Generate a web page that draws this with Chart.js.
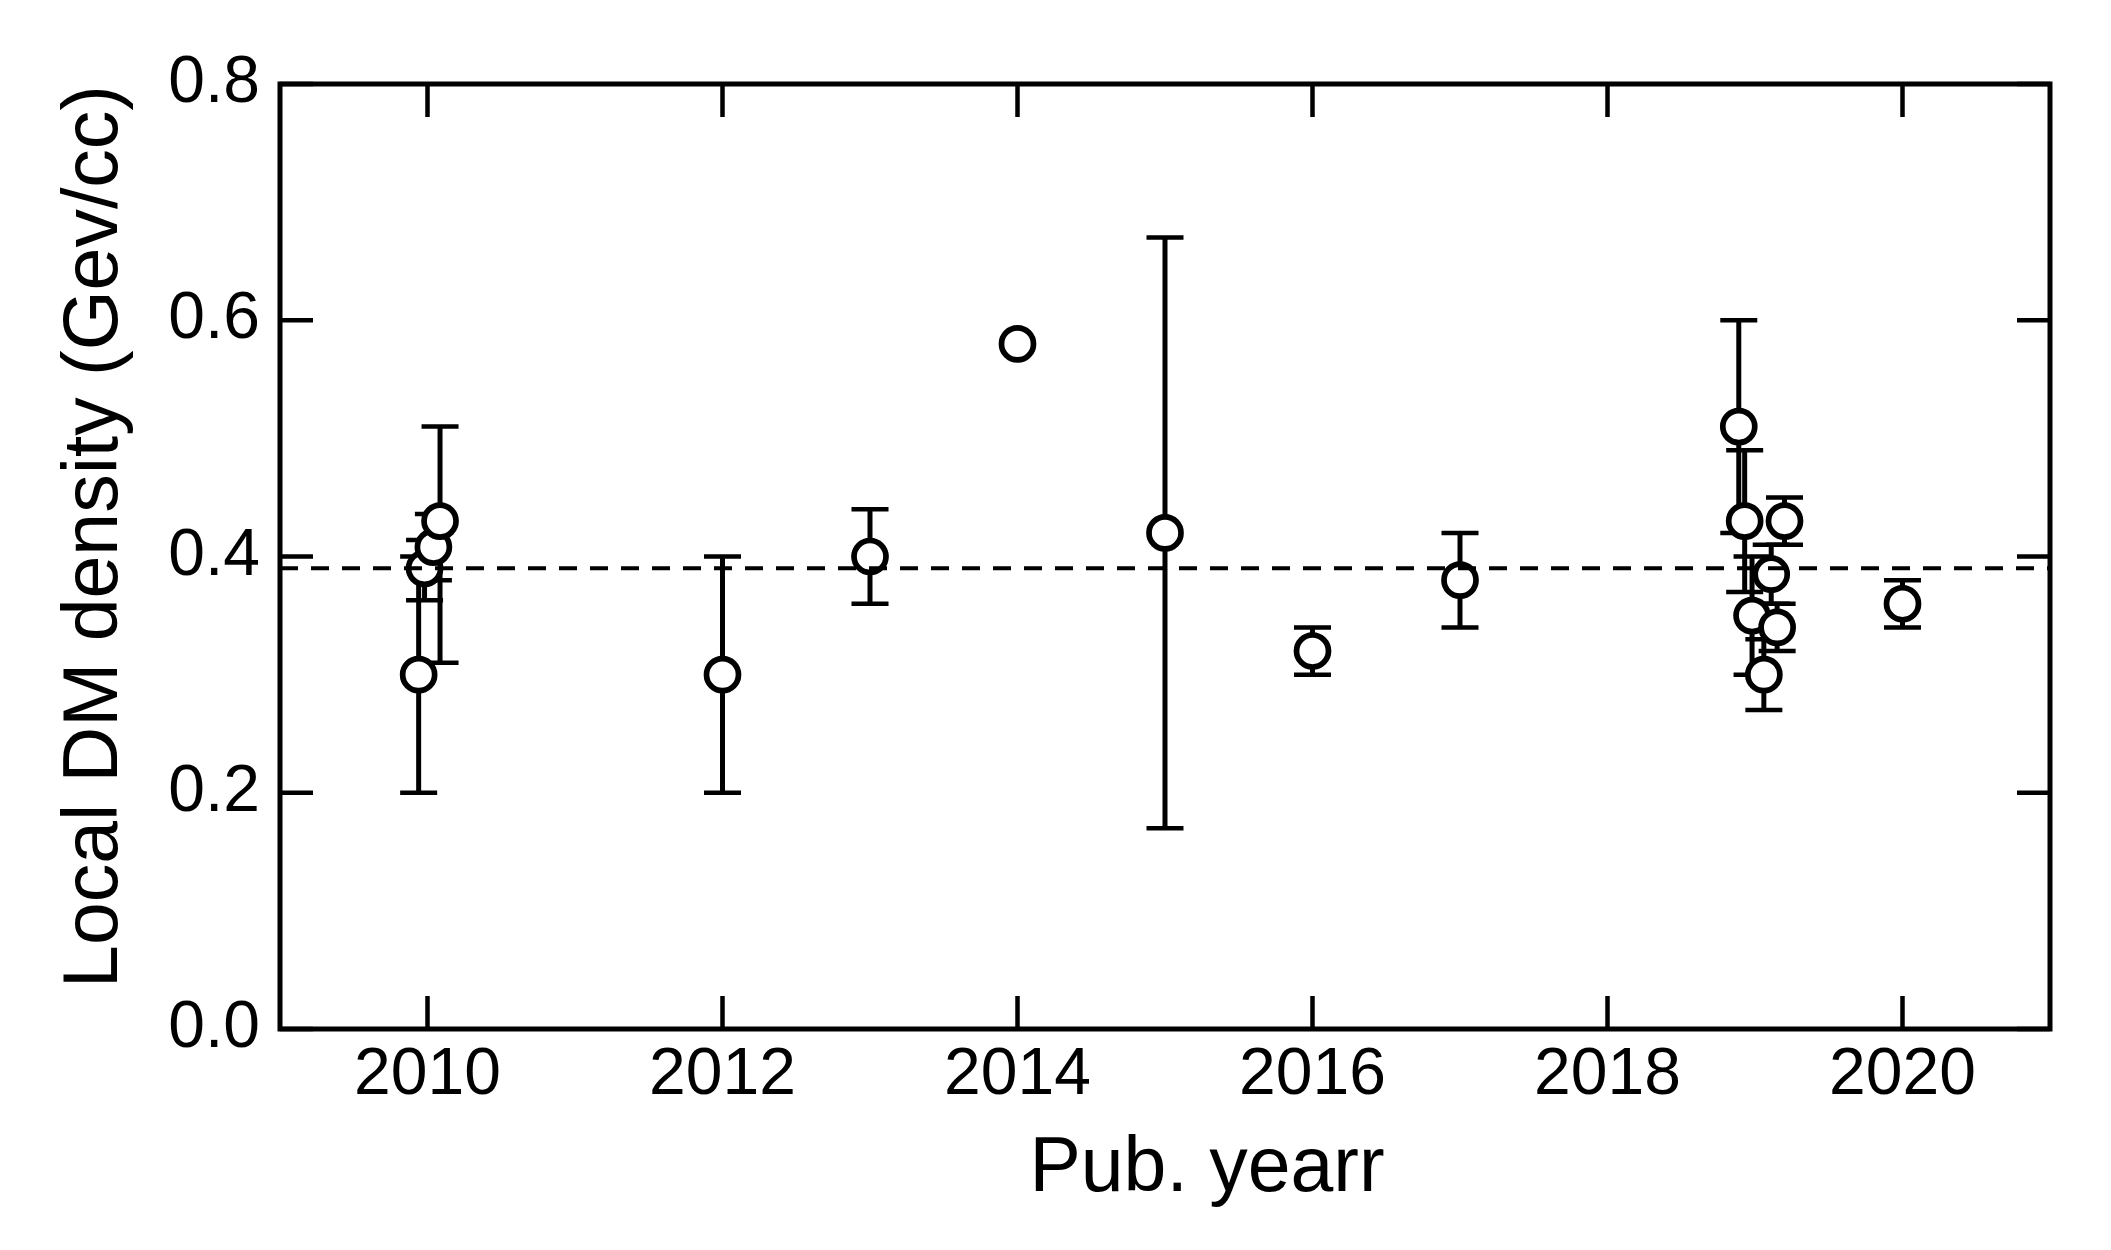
<!DOCTYPE html>
<html>
<head>
<meta charset="utf-8">
<script src="https://cdn.jsdelivr.net/npm/chart.js@4/dist/chart.umd.min.js"></script>
<style>
  html, body { margin: 0; padding: 0; background: #fff; }
  #wrap { width: 2111px; height: 1250px; }
</style>
</head>
<body>
<div id="wrap"><canvas id="c" width="2111" height="1250"></canvas></div>
<script>
// ---- Data ----
const pubYears = [2009.94, 2009.98, 2010.04, 2010.085, 2012, 2013, 2014, 2015, 2016, 2017,
                  2018.89, 2018.93, 2018.98, 2019.06, 2019.11, 2019.15, 2019.20, 2020];
const dmDensity = [0.30, 0.39, 0.408, 0.43, 0.30, 0.40, 0.58, 0.42, 0.32, 0.38,
                   0.51, 0.43, 0.35, 0.30, 0.385, 0.34, 0.43, 0.36];
const errLow  = [0.20, 0.363, 0.38, 0.31, 0.20, 0.36, null, 0.17, 0.30, 0.34,
                 0.42, 0.37, 0.30, 0.27, 0.36, 0.32, 0.41, 0.34];
const errHigh = [0.40, 0.414, 0.436, 0.51, 0.40, 0.44, null, 0.67, 0.34, 0.42,
                 0.60, 0.49, 0.40, 0.33, 0.41, 0.36, 0.45, 0.38];
const refDensity = 0.39;
const xRange = [2009, 2021];
const yRange = [0, 0.8];
const xTickValues = [2010, 2012, 2014, 2016, 2018, 2020];
const yTickValues = [0.0, 0.2, 0.4, 0.6, 0.8];
const xTitle = 'Pub. yearr';
const yTitle = 'Local DM density (Gev/cc)';

const FONT = '"Liberation Sans", Arial, Helvetica, sans-serif';

const points = pubYears.map((x, i) => ({ x: x, y: dmDensity[i] }));

const errorBarPlugin = {
  id: 'errorBars',
  beforeDatasetsDraw(chart) {
    const ctx = chart.ctx, xs = chart.scales.x, ys = chart.scales.y;
    ctx.save();
    ctx.strokeStyle = '#000';
    ctx.lineCap = 'butt';
    for (let i = 0; i < pubYears.length; i++) {
      if (errLow[i] == null || errHigh[i] == null) continue;
      const px = xs.getPixelForValue(pubYears[i]);
      const yl = ys.getPixelForValue(errLow[i]);
      const yh = ys.getPixelForValue(errHigh[i]);
      ctx.lineWidth = 5;
      ctx.beginPath();
      ctx.moveTo(px, yl); ctx.lineTo(px, yh);
      ctx.stroke();
      ctx.lineWidth = 4.5;
      ctx.beginPath();
      ctx.moveTo(px - 18.5, yl); ctx.lineTo(px + 18.5, yl);
      ctx.moveTo(px - 18.5, yh); ctx.lineTo(px + 18.5, yh);
      ctx.stroke();
    }
    ctx.restore();
  }
};

const framePlugin = {
  id: 'frame',
  afterDraw(chart) {
    const ctx = chart.ctx, a = chart.chartArea, xs = chart.scales.x, ys = chart.scales.y;
    ctx.save();
    ctx.strokeStyle = '#000';
    ctx.lineWidth = 4.5;
    const tl = 33;
    ctx.beginPath();
    xs.ticks.forEach(t => {
      const p = xs.getPixelForValue(t.value);
      ctx.moveTo(p, a.bottom); ctx.lineTo(p, a.bottom - tl);
      ctx.moveTo(p, a.top); ctx.lineTo(p, a.top + tl);
    });
    ys.ticks.forEach(t => {
      const p = ys.getPixelForValue(t.value);
      ctx.moveTo(a.left, p); ctx.lineTo(a.left + tl, p);
      ctx.moveTo(a.right, p); ctx.lineTo(a.right - tl, p);
    });
    ctx.stroke();
    ctx.lineWidth = 5;
    ctx.strokeRect(a.left, a.top, a.right - a.left, a.bottom - a.top);

    // axis titles
    ctx.fillStyle = '#000';
    ctx.font = '77px ' + FONT;
    ctx.textAlign = 'center';
    ctx.textBaseline = 'alphabetic';
    const cx = (a.left + a.right) / 2 + 42;
    ctx.fillText(xTitle, cx, a.bottom + 162);
    ctx.save();
    ctx.translate(a.left - 163, (a.top + a.bottom) / 2 - 20);
    ctx.rotate(-Math.PI / 2);
    ctx.fillText(yTitle, 0, 0);
    ctx.restore();
    ctx.restore();
  }
};

new Chart(document.getElementById('c'), {
  type: 'scatter',
  data: {
    datasets: [
      {
        type: 'line',
        data: [{ x: xRange[0], y: refDensity }, { x: xRange[1], y: refDensity }],
        borderColor: '#000',
        borderWidth: 4,
        borderDash: [18, 13],
        pointRadius: 0,
        fill: false,
        order: 0
      },
      {
        type: 'scatter',
        data: points,
        pointStyle: 'circle',
        pointRadius: 16,
        pointHoverRadius: 16,
        pointBorderWidth: 5.7,
        pointBackgroundColor: '#fff',
        pointBorderColor: '#000',
        order: 1
      }
    ]
  },
  options: {
    responsive: false,
    animation: false,
    events: [],
    layout: { padding: { left: 0, top: 84, right: 61, bottom: 0 } },
    plugins: { legend: { display: false }, tooltip: { enabled: false } },
    scales: {
      x: {
        type: 'linear',
        position: 'bottom',
        min: xRange[0],
        max: xRange[1],
        afterBuildTicks(s) { s.ticks = xTickValues.map(v => ({ value: v })); },
        afterFit(s) { s.height = 221; },
        grid: { display: false, drawTicks: false },
        border: { display: false },
        ticks: {
          color: '#000',
          font: { size: 66, family: FONT },
          padding: 7,
          maxRotation: 0,
          autoSkip: false,
          callback: v => String(v)
        }
      },
      y: {
        type: 'linear',
        min: yRange[0],
        max: yRange[1],
        afterBuildTicks(s) { s.ticks = yTickValues.map(v => ({ value: v })); },
        afterFit(s) { s.width = 280; },
        grid: { display: false, drawTicks: false },
        border: { display: false },
        ticks: {
          color: '#000',
          font: { size: 66, family: FONT },
          padding: 20,
          callback: v => Number(v).toFixed(1)
        }
      }
    }
  },
  plugins: [errorBarPlugin, framePlugin]
});
</script>
</body>
</html>
